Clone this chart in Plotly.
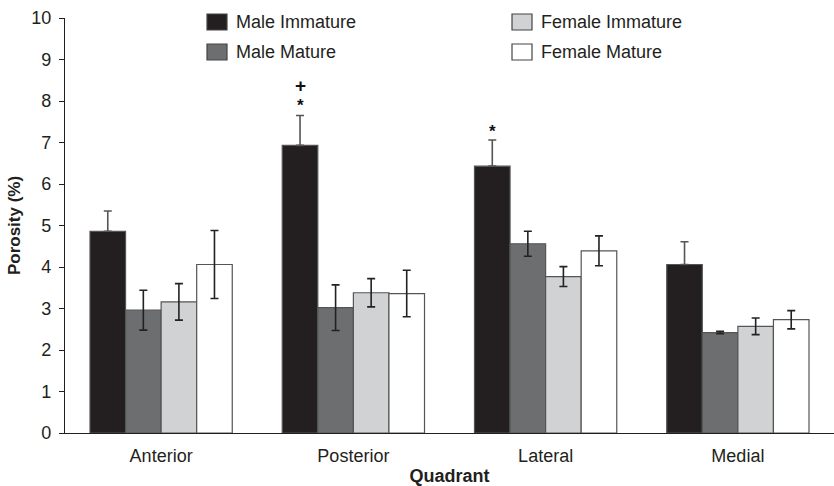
import plotly.graph_objects as go

quadrants = ["Anterior", "Posterior", "Lateral", "Medial"]
series_names = ["Male Immature", "Male Mature", "Female Immature", "Female Mature"]
male_immature = [4.86, 6.93, 6.43, 4.06]
male_immature_err = [0.49, 0.72, 0.63, 0.55]
male_mature = [2.96, 3.02, 4.56, 2.42]
male_mature_err = [0.48, 0.55, 0.30, 0.03]
female_immature = [3.16, 3.38, 3.77, 2.57]
female_immature_err = [0.44, 0.34, 0.24, 0.20]
female_mature = [4.06, 3.36, 4.39, 2.73]
female_mature_err = [0.82, 0.56, 0.36, 0.22]
yticks = [0, 1, 2, 3, 4, 5, 6, 7, 8, 9, 10]
marks = [("Posterior", "*", 7.91), ("Posterior", "+", 8.38), ("Lateral", "*", 7.28)]

values = [male_immature, male_mature, female_immature, female_mature]
errors = [male_immature_err, male_mature_err, female_immature_err, female_mature_err]
upper_only = [True, False, False, False]
colors = ["#231f20", "#6d6e70", "#d1d2d4", "#ffffff"]
errcolors = ["#555555", "#222222", "#222222", "#222222"]

FONT = "Liberation Sans, Arial, sans-serif"
fig = go.Figure()
for name, v, e, up, c, ec in zip(series_names, values, errors, upper_only, colors, errcolors):
    fig.add_trace(go.Bar(
        x=quadrants, y=v, name=name, showlegend=False,
        marker=dict(color=c, line=dict(color="#555555", width=1.2)),
        error_y=dict(type="data", symmetric=False, array=e,
                     arrayminus=[0 for _ in e] if up else e,
                     visible=True, color=ec, thickness=1.6, width=4),
    ))

bargap = 0.26
bw = (1 - bargap) / 4
for cat, txt, yv in marks:
    idx = quadrants.index(cat)
    xpos = idx - (1 - bargap) / 2 + bw / 2
    fig.add_annotation(x=xpos, y=yv, text="<b>%s</b>" % txt, showarrow=False, xref="x", yref="y",
                       height=14, borderpad=0, yanchor="middle",
                       font=dict(family=FONT, size=19 if txt == "+" else 17, color="#111111"))

leg_pos = [(207, 22), (207, 52), (512, 22), (512, 52)]
W, H = 834, 486
ml, mr, mt, mb = 65, 0, 18, 53
pw, ph = W - ml - mr, H - mt - mb
def px(x):
    return (x - ml) / pw
def py(y):
    return 1 - (y - mt) / ph
for name, c, (lx, ly) in zip(series_names, colors, leg_pos):
    fig.add_shape(type="rect", xref="paper", yref="paper",
                  x0=px(lx), x1=px(lx + 20), y0=py(ly - 8), y1=py(ly + 8),
                  fillcolor=c, line=dict(color="#444444", width=1.2))
    fig.add_annotation(xref="paper", yref="paper", x=px(lx + 27), y=py(ly), text=name,
                       showarrow=False, xanchor="left", yanchor="middle",
                       font=dict(family=FONT, size=18, color="#231f20"))

fig.update_layout(
    width=W, height=H, margin=dict(l=ml, r=mr, t=mt, b=mb),
    paper_bgcolor="white", plot_bgcolor="white",
    barmode="group", bargap=bargap, bargroupgap=0,
    font=dict(family=FONT, size=18, color="#231f20"),
    xaxis=dict(showline=True, linecolor="#231f20", linewidth=1.2, ticks="",
               tickfont=dict(size=18), ticklabelstandoff=6,
               title=dict(text="<b>Quadrant</b>", font=dict(size=18), standoff=8),
               range=[-0.5, 3.5]),
    yaxis=dict(range=[0, 10], tickvals=yticks, showline=True, linecolor="#231f20", linewidth=1.2,
               ticks="outside", ticklen=5, tickcolor="#231f20", showgrid=False, zeroline=False,
               tickfont=dict(size=18), ticklabelstandoff=4,
               title=dict(text="<b>Porosity (%)</b>", font=dict(size=17), standoff=6)),
)
fig.write_html("out.html")
